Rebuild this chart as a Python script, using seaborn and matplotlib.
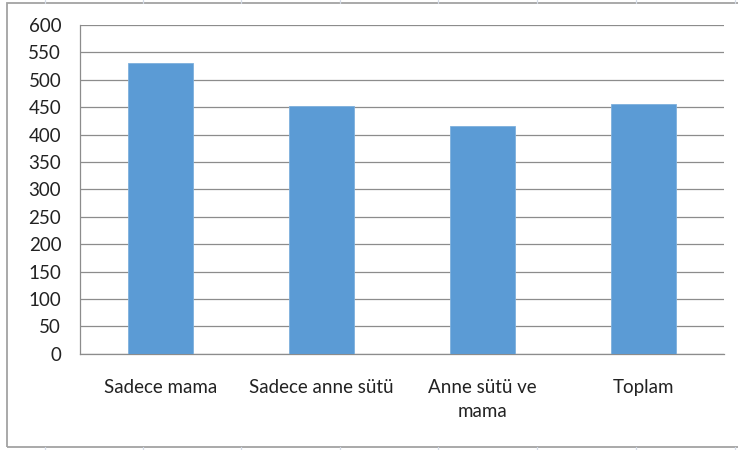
import matplotlib
matplotlib.use("Agg")
import matplotlib.pyplot as plt
from matplotlib.lines import Line2D
from matplotlib.patches import Rectangle
import seaborn as sns
import pandas as pd

categories = ["Sadece mama", "Sadece anne sütü", "Anne sütü ve\nmama", "Toplam"]
values = [531, 452, 415, 455]
y_ticks = [0, 50, 100, 150, 200, 250, 300, 350, 400, 450, 500, 550, 600]

df = pd.DataFrame({"grup": categories, "deger": values})

sns.set_theme(style="white")
plt.rcParams["font.family"] = ["Lato", "DejaVu Sans"]

W, H = 738, 450
fig = plt.figure(figsize=(W / 100, H / 100), dpi=100)
fig.patch.set_facecolor("white")

# faint worksheet cell lines peeking out around the chart frame
cell_color = "#d4dbe6"
for xc in [45, 143, 241, 340, 438, 537, 636, 735]:
    fig.add_artist(Line2D([xc / W, xc / W], [1 - 3 / H, 1.0], color=cell_color, lw=0.9))
    fig.add_artist(Line2D([xc / W, xc / W], [0.0, 3 / H], color=cell_color, lw=0.9))

# chart area frame
fig.add_artist(Rectangle((7 / W, 3 / H), (W + 20) / W, (H - 6) / H, fill=False,
                         edgecolor="#a3a3a3", lw=1.3, transform=fig.transFigure))

left, right = 80, 724
top, bottom = 25, 353.7
ax = fig.add_axes([left / W, 1 - bottom / H, (right - left) / W, (bottom - top) / H])

sns.barplot(data=df, x="grup", y="deger", color="#5B9BD5", saturation=1,
            width=0.4, ax=ax, edgecolor="#7eb0dd", linewidth=0.6, zorder=3)

ax.set_ylim(0, 600)
ax.set_xlim(-0.5, len(categories) - 0.5)
ax.set_yticks(y_ticks)
ax.set_xlabel("")
ax.set_ylabel("")

grid_color = "#8c8c8c"
ax.yaxis.grid(True, color=grid_color, lw=0.9, zorder=0)
ax.set_axisbelow(True)
for side in ["top", "right"]:
    ax.spines[side].set_visible(False)
for side in ["left", "bottom"]:
    ax.spines[side].set_color(grid_color)
    ax.spines[side].set_linewidth(0.9)

text_color = "#222222"
ax.tick_params(axis="y", which="major", direction="out", length=4.5, width=0.9,
               color=grid_color, labelsize=13.5, labelcolor=text_color, pad=9)
# category ticks sit on the boundaries between groups
ax.set_xticks(range(len(categories)))
ax.set_xticklabels(categories, fontsize=13.5, color=text_color, linespacing=1.55, va="top")
ax.tick_params(axis="x", which="major", length=0, pad=18)
ax.set_xticks([i - 0.5 for i in range(len(categories) + 1)], minor=True)
ax.tick_params(axis="x", which="minor", direction="out", length=4.5, width=0.9,
               color=grid_color)

fig.savefig("out.png", dpi=100, facecolor="white")
